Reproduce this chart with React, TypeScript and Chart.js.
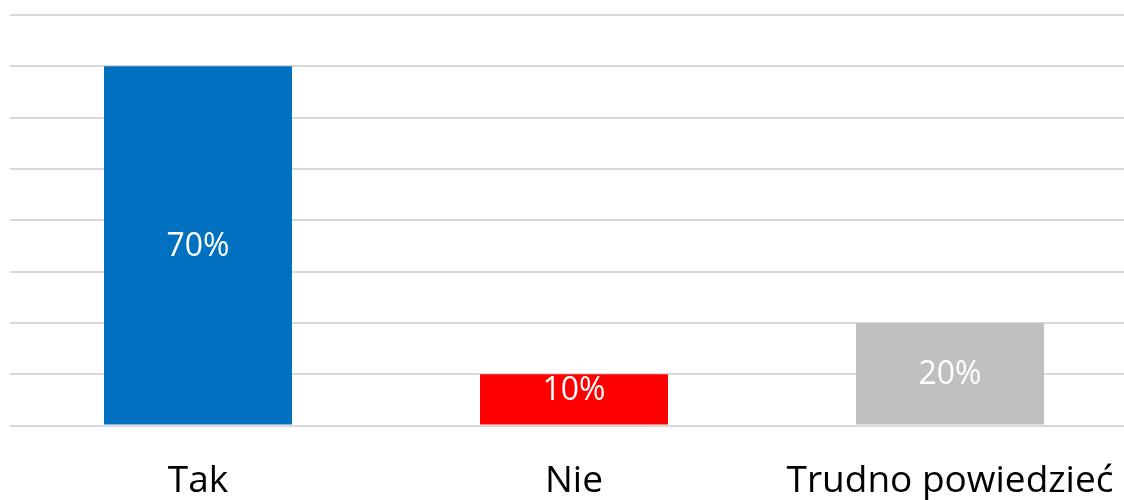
import React, { useEffect, useRef } from "react";
import { Chart, registerables } from "chart.js";

Chart.register(...registerables);

const categories = ["Tak", "Nie", "Trudno powiedzieć"];
const values = [70, 10, 20];
const barColors = ["#0070C0", "#FF0000", "#BFBFBF"];
const yMax = 80;
const yStep = 10;

const barLabelPlugin = {
  id: "barLabels",
  afterDatasetsDraw(chart: any) {
    const ctx = chart.ctx;
    const meta = chart.getDatasetMeta(0);
    ctx.save();
    ctx.font = "32px 'Open Sans'";
    ctx.fillStyle = "#FFFFFF";
    ctx.textAlign = "center";
    ctx.textBaseline = "middle";
    meta.data.forEach((bar: any, i: number) => {
      const top = bar.y;
      const bottom = bar.base;
      const h = bottom - top;
      const y = h < 60 ? top + 16 : (top + bottom) / 2;
      ctx.fillText(values[i] + "%", bar.x, y + 1);
    });
    ctx.restore();
  },
};

export default function App() {
  const ref = useRef<HTMLCanvasElement>(null);
  useEffect(() => {
    document.body.style.margin = "0";
    document.documentElement.style.overflow = "hidden";
    const chart = new Chart(ref.current!, {
      type: "bar",
      data: {
        labels: categories,
        datasets: [
          {
            data: values,
            backgroundColor: barColors,
            barPercentage: 0.5,
            categoryPercentage: 1.0,
          },
        ],
      },
      options: {
        animation: false,
        responsive: false,
        maintainAspectRatio: false,
        layout: { padding: { left: 10, right: 0, top: 15, bottom: 0 } },
        plugins: { legend: { display: false }, tooltip: { enabled: false } },
        scales: {
          x: {
            grid: { display: false, drawTicks: false },
            border: { display: false },
            ticks: {
              color: "#000000",
              font: { family: "'Open Sans'", size: 37 },
              padding: 34,
              maxRotation: 0,
            },
            afterFit: (s: any) => {
              s.height = 74.5;
              s.paddingLeft = 0;
              s.paddingRight = 0;
            },
          },
          y: {
            min: 0,
            max: yMax,
            ticks: { display: false, stepSize: yStep },
            grid: { color: "#D9D9D9", lineWidth: 2, drawTicks: false },
            border: { display: false },
            afterFit: (s: any) => {
              s.width = 0;
            },
          },
        },
      },
      plugins: [barLabelPlugin],
    });
    return () => chart.destroy();
  }, []);
  return (
    <div style={{ width: 1138, height: 500 }}>
      <canvas ref={ref} width={1138} height={500} style={{ display: "block" }} />
    </div>
  );
}
